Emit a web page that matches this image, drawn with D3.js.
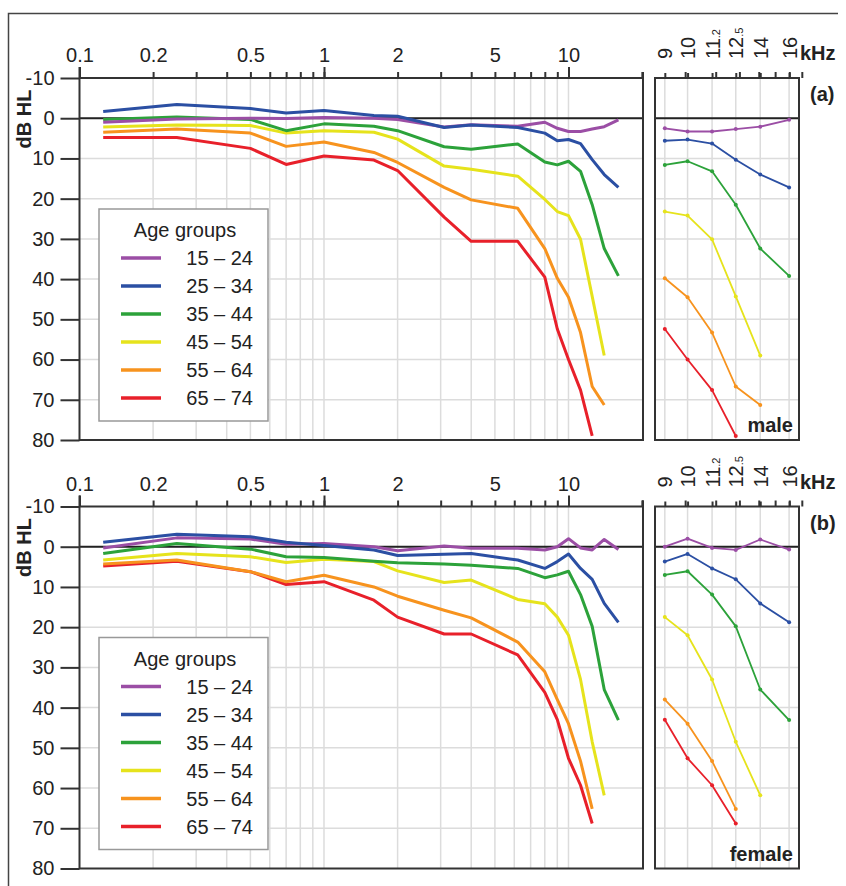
<!DOCTYPE html>
<html>
<head>
<meta charset="utf-8">
<script src="https://cdn.jsdelivr.net/npm/d3@7"></script>
<style>
  body { margin: 0; background: #fff; }
  text { font-family: "Liberation Sans", Arial, sans-serif; fill: #222; }
</style>
</head>
<body>
<div id="chart"></div>
<script>
// frequencies (kHz)
const freqs = [0.125, 0.25, 0.5, 0.7, 1, 1.6, 2, 3.1, 4, 6.2, 8, 9, 10, 11.2, 12.5, 14, 16];
const hfTicks = [9, 10, 11.2, 12.5, 14, 16];
const xLabels = [0.1, 0.2, 0.5, 1, 2, 5, 10];
const yTicks = [-10, 0, 10, 20, 30, 40, 50, 60, 70, 80];

const ageGroups = ["15 – 24", "25 – 34", "35 – 44", "45 – 54", "55 – 64", "65 – 74"];
const colors = ["#9b4ea5", "#2b4fa3", "#2ca23a", "#e6e31c", "#f7931e", "#e8202a"];

// (a) male, dB HL
const male_15_24 = [1.0, 0.2, 0.0, 0.1, -0.2, 0.0, 0.3, 2.2, 1.6, 2.0, 1.0, 2.5, 3.3, 3.3, 2.7, 2.1, 0.4];
const male_25_34 = [-1.7, -3.4, -2.4, -1.3, -1.9, -0.7, -0.5, 2.3, 1.7, 2.3, 3.7, 5.6, 5.3, 6.3, 10.3, 14.0, 17.2];
const male_35_44 = [0.3, -0.3, 0.3, 3.1, 1.4, 2.0, 3.1, 7.1, 7.7, 6.4, 10.9, 11.6, 10.7, 13.2, 21.5, 32.4, 39.2];
const male_45_54 = [2.2, 1.7, 1.8, 3.7, 3.1, 3.5, 5.2, 11.9, 12.7, 14.4, 20.2, 23.2, 24.2, 30.1, 44.3, 59.0];
const male_55_64 = [3.5, 2.7, 3.7, 7.0, 5.9, 8.5, 11.0, 17.2, 20.3, 22.4, 32.4, 39.8, 44.5, 53.3, 66.7, 71.3];
const male_65_74 = [4.8, 4.8, 7.5, 11.5, 9.4, 10.4, 13.0, 24.6, 30.6, 30.6, 39.5, 52.4, 60.0, 67.6, 79.0];

// (b) female, dB HL
const female_15_24 = [0.3, -2.2, -1.9, -0.6, -0.8, 0.0, 1.0, -0.2, 0.4, 0.4, 0.8, 0.0, -2.0, 0.3, 0.8, -1.8, 0.7];
const female_25_34 = [-1.1, -3.1, -2.5, -1.1, -0.3, 0.8, 2.2, 1.9, 1.7, 3.3, 5.4, 3.7, 1.8, 5.4, 8.1, 14.1, 18.8];
const female_35_44 = [1.7, -0.8, 0.6, 2.5, 2.7, 3.6, 4.0, 4.3, 4.6, 5.4, 7.7, 7.0, 6.1, 11.9, 19.8, 35.5, 43.1];
const female_45_54 = [3.3, 1.7, 2.5, 3.9, 3.1, 3.7, 6.0, 8.9, 8.3, 13.1, 14.2, 17.5, 22.0, 33.0, 48.5, 61.8];
const female_55_64 = [4.3, 3.3, 6.2, 8.7, 7.1, 10.0, 12.3, 15.8, 17.7, 23.7, 31.1, 38.0, 44.0, 53.3, 65.2];
const female_65_74 = [4.8, 3.6, 6.2, 9.4, 8.7, 13.3, 17.5, 21.7, 21.7, 26.9, 36.2, 43.0, 52.6, 59.3, 68.8];

const W = 846, H = 886;
const svg = d3.select("#chart").append("svg")
  .attr("width", W).attr("height", H);

svg.append("rect").attr("width", W).attr("height", H).attr("fill", "#fff");

// outer frame (top + left only)
svg.append("path")
  .attr("d", "M8.5," + H + "V13.5H838")
  .attr("fill", "none").attr("stroke", "#444").attr("stroke-width", 1.5);

// main log scale and the extended high-frequency panel
const x = d3.scaleLog().domain([0.1, 20.17]).range([79.5, 643]);
const x2 = d3.scaleLog().domain([8.6, 16.75]).range([655, 799]);

const minorTicks = [];
[0.1, 1, 10].forEach(d => { for (let k = 1; k <= 9; k++) minorTicks.push(+(d * k).toFixed(2)); });
minorTicks.push(20);
const majorTicks = [0.1, 1, 10];
const gridX = minorTicks.filter(d => d > 0.1 && d <= 10);

function drawPanel(top, series, tag, sex) {
  const y = d3.scaleLinear().domain([-10, 80]).range([top, top + 362]);
  const g = svg.append("g");

  // grid
  g.selectAll(".gx").data(gridX).enter().append("line")
    .attr("x1", d => x(d)).attr("x2", d => x(d))
    .attr("y1", y(-10)).attr("y2", y(80))
    .attr("stroke", "#dcdcdc").attr("stroke-width", 1.5);
  g.selectAll(".gx2").data(hfTicks).enter().append("line")
    .attr("x1", d => x2(d)).attr("x2", d => x2(d))
    .attr("y1", y(-10)).attr("y2", y(80))
    .attr("stroke", "#dcdcdc").attr("stroke-width", 1.5);
  g.selectAll(".gy").data(yTicks.slice(1, -1)).enter().append("line")
    .attr("x1", x.range()[0]).attr("x2", x.range()[1])
    .attr("y1", d => y(d)).attr("y2", d => y(d))
    .attr("stroke", "#dcdcdc").attr("stroke-width", 1.5);
  g.selectAll(".gy2").data(yTicks.slice(1, -1)).enter().append("line")
    .attr("x1", x2.range()[0]).attr("x2", x2.range()[1])
    .attr("y1", d => y(d)).attr("y2", d => y(d))
    .attr("stroke", "#dcdcdc").attr("stroke-width", 1.5);

  // zero line
  [x, x2].forEach(sc => {
    g.append("line")
      .attr("x1", sc.range()[0]).attr("x2", sc.range()[1])
      .attr("y1", y(0)).attr("y2", y(0))
      .attr("stroke", "#222").attr("stroke-width", 2);
  });

  // top axis (minor ticks with labels, major ticks longer)
  const axMinor = g.append("g").attr("transform", `translate(0,${top})`)
    .call(d3.axisTop(x).tickValues(minorTicks).tickSize(6).tickPadding(10)
      .tickFormat(d => xLabels.includes(d) ? String(d) : ""));
  const axMajor = g.append("g").attr("transform", `translate(0,${top})`)
    .call(d3.axisTop(x).tickValues(majorTicks).tickSize(11).tickFormat(""));
  [axMinor, axMajor].forEach(a => {
    a.select(".domain").remove();
    a.selectAll("line").attr("stroke", "#333").attr("stroke-width", 2);
  });
  axMinor.selectAll("text").style("font-size", "20px").attr("fill", "#222");

  // left axis
  const axY = g.append("g").attr("transform", `translate(${x.range()[0]},0)`)
    .call(d3.axisLeft(y).tickValues(yTicks).tickSize(19).tickPadding(6)
      .tickFormat(d => String(d)));
  axY.select(".domain").remove();
  axY.selectAll("line").attr("stroke", "#333").attr("stroke-width", 2);
  axY.selectAll("text").style("font-size", "20px").attr("fill", "#222");

  // high-frequency axis with rotated labels
  const axHF = g.append("g").attr("transform", `translate(0,${top})`)
    .call(d3.axisTop(x2).tickValues(hfTicks).tickSize(5).tickFormat(d => String(Math.floor(d))));
  axHF.select(".domain").remove();
  axHF.selectAll("line").attr("stroke", "#333").attr("stroke-width", 2);
  axHF.selectAll("text")
    .attr("transform", "rotate(-90)")
    .attr("x", 19).attr("y", 7).attr("dy", null)
    .style("text-anchor", "start").style("font-size", "20px").attr("fill", "#222")
    .each(function(d) {
      if (d % 1 !== 0) {
        d3.select(this).append("tspan")
          .style("font-size", "11px")
          .text("." + String(d).split(".")[1]);
      }
    });
  g.append("text").attr("x", 800).attr("y", top - 18)
    .style("font-size", "20px").style("font-weight", "bold").text("kHz");

  // frames
  g.append("path")
    .attr("d", `M${x.range()[0]},${top - 11}V${y(80)}H${x.range()[1]}V${top - 6}M${x.range()[0]},${top}H${x.range()[1]}`)
    .attr("fill", "none").attr("stroke", "#333").attr("stroke-width", 2);
  g.append("rect")
    .attr("x", x2.range()[0]).attr("y", top)
    .attr("width", x2.range()[1] - x2.range()[0]).attr("height", 362)
    .attr("fill", "none").attr("stroke", "#333").attr("stroke-width", 2);

  // curves: drawn from oldest to youngest, blue last
  const order = [5, 4, 3, 2, 0, 1];
  const line = d3.line().x(d => x(d.f)).y(d => y(d.v)).curve(d3.curveLinear);
  const line2 = d3.line().x(d => x2(d.f)).y(d => y(d.v));
  order.forEach(i => {
    const pts = series[i].map((v, k) => ({ f: freqs[k], v: v }));
    g.append("path").datum(pts)
      .attr("d", line)
      .attr("fill", "none").attr("stroke", colors[i])
      .attr("stroke-width", 3).attr("stroke-linejoin", "round");
    const hf = pts.filter(p => p.f >= 9);
    g.append("path").datum(hf)
      .attr("d", line2)
      .attr("fill", "none").attr("stroke", colors[i])
      .attr("stroke-width", 1.8).attr("stroke-linejoin", "round");
    g.selectAll(null).data(hf).enter().append("circle")
      .attr("cx", d => x2(d.f)).attr("cy", d => y(d.v)).attr("r", 2)
      .attr("fill", colors[i]);
  });

  // labels
  g.append("text")
    .attr("transform", `translate(31,${top + 41}) rotate(-90)`)
    .style("text-anchor", "middle").style("font-size", "20px").style("font-weight", "bold")
    .text("dB HL");
  g.append("text").attr("x", 810).attr("y", top + 23)
    .style("font-size", "20px").style("font-weight", "bold").text(tag);
  g.append("text").attr("x", 793).attr("y", top + 354)
    .style("text-anchor", "end").style("font-size", "20px").style("font-weight", "bold").text(sex);

  // legend
  const lg = g.append("g").attr("transform", `translate(99,${top + 131})`);
  lg.append("rect").attr("width", 169).attr("height", 212)
    .attr("fill", "#fff").attr("stroke", "#999").attr("stroke-width", 1.5);
  lg.append("text").attr("x", 86).attr("y", 28)
    .style("text-anchor", "middle").style("font-size", "20px").text("Age groups");
  ageGroups.forEach((a, i) => {
    const ly = 49 + i * 28;
    lg.append("line").attr("x1", 22).attr("x2", 62).attr("y1", ly).attr("y2", ly)
      .attr("stroke", colors[i]).attr("stroke-width", 3.5);
    lg.append("text").attr("x", 154).attr("y", ly + 7)
      .style("text-anchor", "end").style("font-size", "20px").text(a);
  });
}

drawPanel(78, [male_15_24, male_25_34, male_35_44, male_45_54, male_55_64, male_65_74], "(a)", "male");
drawPanel(506.5, [female_15_24, female_25_34, female_35_44, female_45_54, female_55_64, female_65_74], "(b)", "female");
</script>
</body>
</html>
